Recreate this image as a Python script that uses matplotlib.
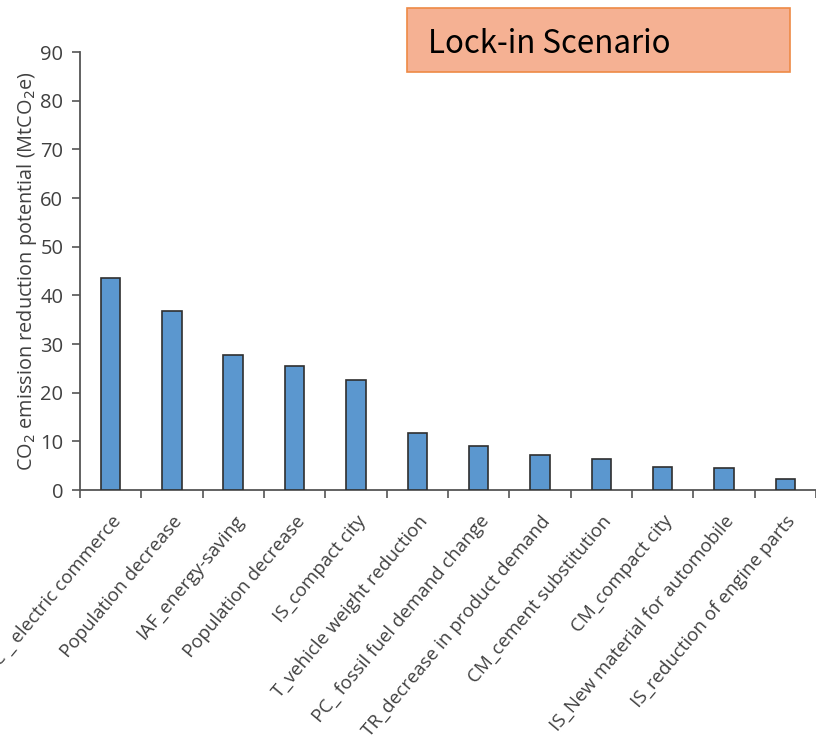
import matplotlib.pyplot as plt
import matplotlib.patches as mpatches
import numpy as np

# data
categories = [
    'EC _ electric commerce',
    'Population decrease',
    'IAF_energy-saving',
    'Population decrease',
    'IS_compact city',
    'T_vehicle weight reduction',
    'PC_ fossil fuel demand change',
    'TR_decrease in product demand',
    'CM_cement substitution',
    'CM_compact city',
    'IS_New material for automobile',
    'IS_reduction of engine parts',
]
values = [43.5, 36.8, 27.7, 25.5, 22.6, 11.8, 9.0, 7.25, 6.3, 4.65, 4.45, 2.2]
y_ticks = [0, 10, 20, 30, 40, 50, 60, 70, 80, 90]

plt.rcParams['font.family'] = ['Open Sans', 'DejaVu Sans']

fig = plt.figure(figsize=(8.16, 7.38), dpi=100)
ax = fig.add_axes([0.098, 0.336, 0.902, 0.5935])

x = np.arange(len(categories))
ax.bar(x, values, width=0.32, color='#5b97cf', edgecolor='#2f2f2f', linewidth=1.2, zorder=3)

ax.set_xlim(-0.5, len(categories) - 0.5)
ax.set_ylim(0, 90)
ax.set_yticks(y_ticks)
ax.tick_params(axis='y', direction='out', length=6, width=1.2, color='#555555',
               labelsize=14.5, labelcolor='#404040', pad=6)

ax.set_xticks(x)
ax.set_xticklabels(categories, rotation=50, ha='right', va='top', rotation_mode='anchor',
                   fontsize=13.5, color='#404040')
ax.tick_params(axis='x', which='major', length=0, pad=16)
ax.set_xticks(np.arange(-0.5, len(categories) + 0.5, 1.0), minor=True)
ax.tick_params(axis='x', which='minor', direction='out', length=6, width=1.2, color='#555555')

for side in ['top', 'right']:
    ax.spines[side].set_visible(False)
for side in ['left', 'bottom']:
    ax.spines[side].set_color('#555555')
    ax.spines[side].set_linewidth(1.3)

ax.set_ylabel('CO$_2$ emission reduction potential (MtCO$_2$e)', fontsize=14.3,
              color='#404040', labelpad=1)

# title box
box = mpatches.Rectangle((407 / 816, 1 - 72 / 738), (790 - 407) / 816, (72 - 8) / 738,
                         transform=fig.transFigure, facecolor='#f5b193',
                         edgecolor='#ee8a45', linewidth=1.2)
fig.patches.append(box)
fig.text(428 / 816, 1 - 44 / 738, 'Lock-in Scenario', fontsize=22.5, color='black',
         va='center', ha='left', family=['Noto Sans CJK JP', 'DejaVu Sans'])

fig.savefig('out.png', dpi=100)
